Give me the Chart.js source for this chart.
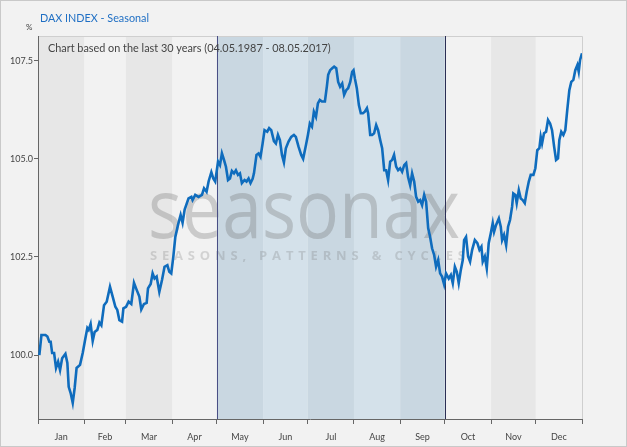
<!DOCTYPE html>
<html>
<head>
<meta charset="utf-8">
<script src="https://cdn.jsdelivr.net/npm/chart.js@4.4.1/dist/chart.umd.min.js"></script>
<style>
  html, body { margin: 0; padding: 0; background: #f2f2f2; }
  #wrap { width: 627px; height: 447px; position: relative; }
  canvas { display: block; }
</style>
</head>
<body>
<div id="wrap"><canvas id="chart" width="627" height="447"></canvas></div>
<script>
// seasonal curve: day of year -> index level (start = 100)
const days = [
  0.9, 2.3, 5.0, 6.3, 7.6, 8.5, 9.5, 10.8, 12.1, 13.5, 14.8, 16.2, 18.4, 19.7, 20.6, 21.9, 23.3, 24.6, 25.9, 28.2,
  30.0, 31.8, 33.1, 34.0, 35.3, 36.7, 38.0, 39.8, 41.2, 42.5, 44.3, 46.1, 48.3, 50.1, 51.9, 53.2, 54.6, 56.4, 57.3, 59.1,
  60.8, 62.6, 64.4, 66.2, 68.0, 69.3, 71.1, 72.9, 73.8, 75.6, 76.9, 78.2, 79.6, 81.4, 83.2, 84.9, 86.8, 88.1, 89.4, 90.8,
  92.1, 93.9, 95.7, 97.0, 98.4, 101.0, 102.9, 103.7, 105.5, 107.7, 110.0, 111.4, 113.1, 114.5, 116.3, 117.6, 118.9, 120.8, 122.1, 123.4,
  124.8, 126.1, 127.5, 128.8, 130.1, 131.5, 132.8, 134.2, 135.5, 136.8, 138.6, 139.9, 141.3, 142.6, 144.0, 144.9, 146.6, 148.0, 149.3, 150.7,
  152.0, 153.8, 155.1, 156.5, 158.3, 159.6, 161.0, 162.3, 163.7, 165.0, 166.3, 168.1, 169.9, 171.7, 173.0, 174.8, 176.6, 177.9, 179.8, 181.1,
  182.4, 183.8, 185.1, 186.5, 187.8, 189.1, 190.5, 192.5, 193.8, 194.7, 196.0, 197.4, 198.7, 200.1, 201.4, 202.7, 204.1, 205.4, 206.8, 208.1,
  209.5, 210.8, 211.7, 212.6, 213.9, 215.3, 216.6, 218.0, 219.3, 220.7, 221.5, 222.9, 224.2, 225.5, 226.9, 228.2, 229.6, 230.9, 232.3, 233.6,
  234.9, 236.3, 237.6, 238.9, 240.3, 241.6, 243.0, 244.3, 245.7, 247.0, 248.3, 249.7, 251.0, 252.4, 253.7, 255.1, 256.4, 257.7, 259.1, 260.4,
  261.8, 263.1, 264.4, 265.8, 267.1, 268.5, 269.8, 271.1, 272.5, 273.8, 275.6, 277.0, 278.3, 279.7, 281.0, 282.3, 283.7, 285.0, 285.9, 287.2,
  288.6, 289.9, 291.3, 293.1, 294.8, 296.2, 297.5, 298.4, 299.8, 301.1, 302.4, 303.8, 305.1, 306.0, 307.3, 309.2, 310.5, 311.4, 312.7, 314.1,
  315.4, 316.7, 318.1, 318.9, 320.3, 321.2, 322.6, 323.9, 325.2, 326.6, 327.9, 329.3, 330.6, 332.4, 333.7, 335.0, 336.4, 337.3, 338.2, 339.5,
  340.9, 342.2, 343.6, 344.9, 346.3, 347.6, 348.9, 349.8, 351.1, 352.5, 353.8, 355.1, 356.5, 357.8, 359.2, 360.5, 361.9, 362.8, 363.7, 365.0
];
const values = [
  100.00, 100.51, 100.51, 100.47, 100.34, 100.34, 100.05, 100.05, 99.67, 99.83, 99.62, 99.92, 100.03, 99.80, 99.19, 99.03, 98.78, 99.16, 99.67, 99.75,
  100.05, 100.43, 100.69, 100.64, 100.79, 100.36, 100.59, 100.64, 100.83, 100.76, 101.27, 101.36, 101.74, 101.49, 101.23, 101.15, 100.89, 100.85, 101.19, 101.23,
  101.36, 101.30, 101.84, 101.66, 101.49, 101.16, 101.30, 101.33, 101.70, 101.81, 102.08, 101.95, 102.00, 101.61, 101.91, 102.25, 102.29, 102.12, 102.08, 102.51,
  103.00, 103.31, 103.57, 103.37, 103.71, 103.99, 104.03, 103.95, 104.08, 104.03, 104.08, 104.25, 104.16, 104.43, 104.66, 104.50, 104.42, 104.93, 104.84, 105.14,
  104.97, 104.80, 104.46, 104.50, 104.69, 104.63, 104.71, 104.59, 104.63, 104.38, 104.46, 104.42, 104.50, 104.38, 104.49, 104.63, 105.10, 105.14, 105.05, 105.39,
  105.73, 105.69, 105.78, 105.73, 105.45, 105.39, 105.61, 105.48, 105.10, 104.91, 105.27, 105.44, 105.56, 105.61, 105.56, 105.31, 105.10, 105.00, 105.35, 105.61,
  105.90, 105.82, 106.20, 106.07, 106.41, 106.50, 106.46, 106.46, 106.84, 107.14, 107.26, 107.31, 107.35, 107.31, 106.96, 106.84, 106.92, 106.63, 106.75, 106.80,
  106.96, 107.22, 107.26, 107.05, 106.80, 106.37, 106.16, 106.16, 106.20, 106.29, 106.16, 105.61, 105.61, 105.65, 105.86, 105.73, 105.48, 105.27, 104.71, 104.71,
  104.46, 104.93, 104.97, 105.10, 104.80, 104.71, 104.76, 104.67, 104.84, 104.89, 104.54, 104.33, 104.63, 104.42, 104.03, 103.91, 103.95, 103.82, 104.08, 103.91,
  103.23, 103.01, 102.72, 102.55, 102.25, 102.42, 102.08, 102.00, 101.80, 102.08, 101.95, 102.04, 101.83, 102.25, 102.12, 101.83, 102.17, 102.42, 102.93, 103.01,
  102.51, 102.38, 102.68, 102.93, 102.85, 102.68, 102.76, 102.38, 102.51, 102.21, 102.85, 103.10, 103.36, 103.14, 103.31, 103.48, 103.27, 102.93, 103.06, 102.80,
  103.27, 103.44, 103.78, 104.12, 104.08, 103.87, 104.20, 103.99, 103.95, 103.87, 104.16, 104.42, 104.59, 104.59, 104.76, 105.22, 105.27, 105.56, 105.39, 105.65,
  105.69, 105.99, 105.90, 105.73, 105.31, 104.97, 105.01, 105.48, 105.69, 105.61, 105.73, 106.24, 106.75, 106.96, 107.01, 107.26, 107.39, 107.22, 107.52, 107.69
];
const months = ["Jan", "Feb", "Mar", "Apr", "May", "Jun", "Jul", "Aug", "Sep", "Oct", "Nov", "Dec"];
const monthStarts = [0, 31, 59, 90, 120, 151, 181, 212, 243, 273, 304, 334, 365];
const yTicks = [100, 102.5, 105, 107.5];
const seasonFrom = 120; // 1 May
const seasonTo = 273;   // 30 Sep
const title = "DAX INDEX - Seasonal";
const subtitle = "Chart based on the last 30 years (04.05.1987 - 08.05.2017)";

// tick positions: month boundaries + month middles (labels)
const xTickVals = [];
monthStarts.forEach((m, i) => {
  xTickVals.push(m);
  if (i < 12) xTickVals.push((m + monthStarts[i + 1]) / 2);
});

const FONT = "Lato, 'Open Sans', sans-serif";

// set a font size so that a text fills a given width
function fitFont(ctx, text, width, weight) {
  ctx.font = weight + " 12px " + FONT;
  const size = 12 * width / ctx.measureText(text).width;
  ctx.font = weight + " " + size.toFixed(2) + "px " + FONT;
}

const decor = {
  id: "decor",
  beforeDraw(c) {
    const ctx = c.ctx, a = c.chartArea, x = c.scales.x;
    ctx.save();
    ctx.fillStyle = "#f2f2f2";
    ctx.fillRect(0, 0, c.width, c.height);
    ctx.strokeStyle = "#c9c9c9";
    ctx.lineWidth = 1;
    ctx.strokeRect(0.5, 0.5, c.width - 1, c.height - 1);
    for (let i = 0; i < 12; i++) {
      const x0 = x.getPixelForValue(monthStarts[i]);
      const x1 = x.getPixelForValue(monthStarts[i + 1]);
      const inSeason = monthStarts[i] >= seasonFrom && monthStarts[i] < seasonTo;
      if (inSeason) ctx.fillStyle = i % 2 === 0 ? "#c9d7e1" : "#d4e1ea";
      else ctx.fillStyle = i % 2 === 0 ? "#e7e7e7" : "#f2f2f2";
      ctx.fillRect(x0, a.top, x1 - x0, a.bottom - a.top);
    }
    // light frame top / right
    ctx.strokeStyle = "#cfcfcf";
    ctx.beginPath();
    ctx.moveTo(a.left, a.top + 0.5);
    ctx.lineTo(a.right + 0.5, a.top + 0.5);
    ctx.lineTo(a.right + 0.5, a.bottom);
    ctx.stroke();
    // texts
    ctx.fillStyle = "#1f6fc4";
    ctx.textBaseline = "middle";
    fitFont(ctx, title, 109, "normal");
    ctx.fillText(title, 40, 19);
    ctx.fillStyle = "#444";
    ctx.font = "8px " + FONT;
    ctx.fillText("%", 26, 27);
    ctx.restore();
  },
  beforeDatasetsDraw(c) {
    const ctx = c.ctx, a = c.chartArea, x = c.scales.x;
    ctx.save();
    // watermark
    ctx.fillStyle = "rgba(110,110,110,0.3)";
    ctx.textBaseline = "alphabetic";
    ctx.font = "82px 'Open Sans', sans-serif";
    const w = ctx.measureText("seasonax").width;
    ctx.save();
    ctx.translate(148, 238);
    ctx.scale(312 / w, 1);
    ctx.fillText("seasonax", 0, 0);
    ctx.restore();
    const tag = "SEASONS, PATTERNS & CYCLES";
    ctx.font = "bold 13px 'Open Sans', sans-serif";
    const tw = ctx.measureText(tag).width;
    ctx.letterSpacing = ((315 - tw) / (tag.length - 1)).toFixed(2) + "px";
    ctx.fillStyle = "rgba(110,110,110,0.24)";
    ctx.fillText(tag, 150, 260);
    ctx.letterSpacing = "0px";
    // season boundary lines
    ctx.lineWidth = 1;
    ctx.strokeStyle = "#4a4f85";
    let px = Math.round(x.getPixelForValue(seasonFrom)) + 0.5;
    ctx.beginPath(); ctx.moveTo(px, a.top); ctx.lineTo(px, a.bottom); ctx.stroke();
    ctx.strokeStyle = "#2b2f55";
    px = Math.round(x.getPixelForValue(seasonTo)) + 0.5;
    ctx.beginPath(); ctx.moveTo(px, a.top); ctx.lineTo(px, a.bottom); ctx.stroke();
    // subtitle
    ctx.fillStyle = "#444";
    ctx.textBaseline = "middle";
    fitFont(ctx, subtitle, 283, "normal");
    ctx.fillText(subtitle, 48, 48);
    ctx.restore();
  }
};

new Chart(document.querySelector("#chart").getContext("2d"), {
  type: "line",
  data: {
    datasets: [
      {
        data: days.map((d, i) => ({ x: d, y: values[i] })),
        borderColor: "#0f6cbd",
        borderWidth: 2.6,
        pointRadius: 0,
        tension: 0,
        fill: false,
      },
    ],
  },
  options: {
    responsive: false,
    animation: false,
    layout: { padding: { left: 0, top: 36, right: 45, bottom: 0 } },
    plugins: { legend: { display: false }, tooltip: { enabled: false } },
    scales: {
      x: {
        type: "linear",
        min: 0,
        max: 365,
        afterBuildTicks: (s) => { s.ticks = xTickVals.map((v) => ({ value: v })); },
        afterFit: (s) => { s.height = 28; },
        border: { display: true, color: "#666", width: 1 },
        grid: {
          drawOnChartArea: false,
          drawTicks: true,
          tickLength: 5,
          color: (ctx) => (ctx.index % 2 === 0 ? "#666" : "rgba(0,0,0,0)"),
        },
        ticks: {
          autoSkip: false,
          maxRotation: 0,
          padding: 8,
          color: "#444",
          font: { size: 9, family: FONT },
          callback: (v, i) => (i % 2 === 1 ? months[(i - 1) / 2] : ""),
        },
      },
      y: {
        min: 98.37,
        max: 108.13,
        afterBuildTicks: (s) => { s.ticks = yTicks.map((v) => ({ value: v })); },
        afterFit: (s) => { s.width = 38; },
        border: { display: true, color: "#666", width: 1 },
        grid: { drawOnChartArea: false, drawTicks: true, tickLength: 4, color: "#666" },
        ticks: {
          padding: 1,
          color: "#444",
          font: { size: 9, family: FONT },
          callback: (v) => v.toFixed(1),
        },
      },
    },
  },
  plugins: [decor],
});
</script>
</body>
</html>
